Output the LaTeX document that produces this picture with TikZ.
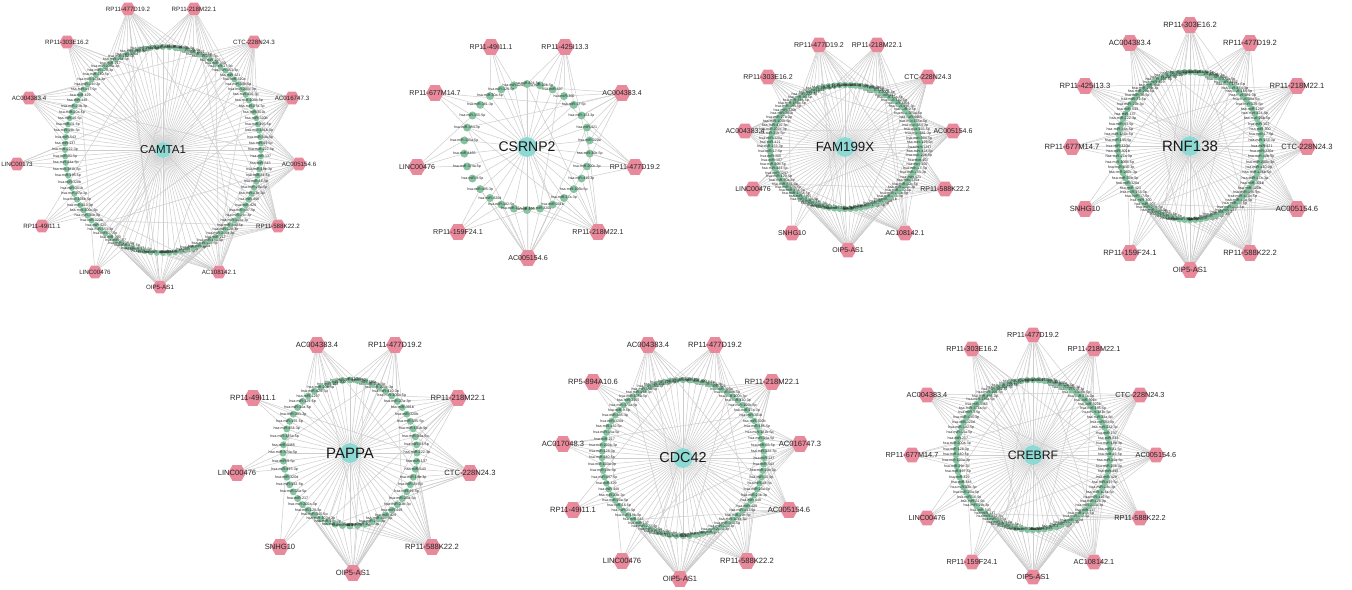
\documentclass[tikz,border=0pt]{standalone}
\usepackage{fontspec}
\setmainfont{Liberation Sans}
\usetikzlibrary{shapes.geometric}
\pgfdeclarelayer{paper}
\pgfdeclarelayer{bg}
\pgfsetlayers{paper,bg,main}
\definecolor{edgegray}{HTML}{CDCDCD}
\definecolor{mirgreen}{HTML}{86C3A1}
\definecolor{hubteal}{HTML}{8ED9D3}
\definecolor{lncpink}{HTML}{E8899C}
\def\msize{4.5pt}\def\mfs{3.2}\def\hexsz{17pt}\def\hfs{7}\def\nameoff{0}\def\hubsz{20pt}
\tikzset{
  edge/.style={draw=edgegray,line width=0.5pt},
  mir/.style={circle,fill=mirgreen,inner sep=0pt,minimum size=\msize},
  mirlab/.style={inner sep=0pt,text=black!85,font=\fontsize{\mfs}{\mfs}\selectfont},
  hub/.style={circle,fill=hubteal,inner sep=0pt,minimum size=\hubsz},
  lnc/.style={regular polygon,regular polygon sides=6,fill=lncpink,inner sep=0pt,minimum size=\hexsz},
  lnclab/.style={inner sep=0pt,text=black!85,font=\fontsize{\hfs}{\hfs}\selectfont},
  hublab/.style={inner sep=0pt,text=black!90},
}
\newcommand\mirname[1]{\ifcase#1 hsa-miR-155-5p\or hsa-miR-107\or hsa-miR-200c-3p\or hsa-miR-181b-5p\or hsa-miR-31-5p\or hsa-miR-29c-3p\or hsa-miR-182-5p\or hsa-miR-454-3p\or hsa-miR-20b-5p\or hsa-miR-30b-5p\or hsa-miR-195-5p\or hsa-miR-19b-3p\or hsa-miR-497-5p\or hsa-miR-15a-5p\or hsa-miR-135a-5p\or hsa-miR-424-5p\or hsa-miR-320a\or hsa-miR-320b\or hsa-miR-543\or hsa-miR-429\or hsa-miR-217\or hsa-miR-4465\or hsa-miR-1297\or hsa-miR-421\or hsa-miR-301b\or hsa-miR-137\or hsa-miR-448\or hsa-miR-200a-3p\or hsa-miR-374a-5p\or hsa-miR-129-5p\or hsa-miR-153-3p\or hsa-miR-27a-3p\or hsa-miR-222-3p\or hsa-miR-23b-3p\or hsa-miR-128-3p\or hsa-miR-9-5p\or hsa-miR-30a-5p\or hsa-miR-17-5p\or hsa-miR-106b-5p\or hsa-miR-93-5p\or hsa-miR-20a-5p\or hsa-miR-340-5p\or hsa-miR-495-3p\or hsa-miR-381-3p\or hsa-miR-300\or hsa-miR-410-3p\or hsa-miR-34a-5p\or hsa-miR-16-5p\or hsa-miR-103a-3p\or hsa-miR-320d\fi}
\newcommand\netpanel[9]{%
  \node[hub] (#1-c) at (#2,#3) {};
  \foreach \i in {1,...,#6}{%
    \pgfmathsetmacro\ang{90-(\i-1)/#6*360}%
    \pgfmathsetmacro\mx{#2+#4*cos(\ang)}%
    \pgfmathsetmacro\my{#3+#5*sin(\ang)}%
    \pgfmathtruncatemacro\nm{mod(\i*7+\nameoff,50)}%
    \node[mir] (#1-m\i) at (\mx,\my) {};
    \node[mirlab] at (\mx,\my) {\mirname{\nm}};
  }%
  \node[hublab,font=\fontsize{#8}{#8}\selectfont] at (#2,#3) {#7};
  \foreach \lx/\ly/\lab/\w/\far [count=\j] in {#9}{%
    \node[lnc] (#1-l\j) at (\lx,\ly) {};
    \node[lnclab] at (\lx,\ly) {\lab};
  }%
  \begin{pgfonlayer}{bg}%
  \foreach \i in {1,...,#6}{\draw[edge] (#1-c) -- (#1-m\i);}%
  \foreach \lx/\ly/\lab/\w/\far [count=\j] in {#9}{%
    \pgfmathsetmacro\la{atan2((\ly-#3)/#5,(\lx-#2)/#4)}%
    \pgfmathtruncatemacro\iz{mod(round(10*#6+(90-\la)/360*#6),#6)}%
    \pgfmathtruncatemacro\wa{-\w}%
    \foreach \kk in {\wa,...,\w}{%
      \pgfmathtruncatemacro\idx{mod(\iz+\kk+#6,#6)+1}%
      \draw[edge] (#1-l\j) -- (#1-m\idx);
    }%
    \foreach \ff in {1,...,\far}{%
      \pgfmathtruncatemacro\idx{mod(\iz+round(#6*(0.22+0.19*\ff))+3*\j,#6)+1}%
      \draw[edge] (#1-l\j) -- (#1-m\idx);
    }%
  }%
  \end{pgfonlayer}%
}
\begin{document}
\begin{tikzpicture}[x=1pt,y=-1pt]
\begin{pgfonlayer}{paper}\fill[white] (0,0) rectangle (1352,589);\end{pgfonlayer}
\useasboundingbox (0,0) rectangle (1352,589);

% CAMTA1
\def\msize{6pt}\def\mfs{3.6}\def\hexsz{15pt}\def\hfs{6.2}\def\nameoff{0}\def\hubsz{16pt}
\netpanel{a}{163}{150}{98}{103}{100}{CAMTA1}{11.5}{128/9/RP11-477D19.2/6/4, 194/9/RP11-218M22.1/6/4, 67/42/RP11-303E16.2/4/2, 254/42/CTC-228N24.3/6/3, 29/98/AC004383.4/5/2, 292/98/AC016747.3/6/3, 17/164/LINC00173/2/1, 299/164/AC005154.6/7/3, 42/226/RP11-49I11.1/2/1, 278/226/RP11-588K22.2/8/4, 95/272/LINC00476/2/1, 219/272/AC108142.1/8/4, 160/287/OIP5-AS1/12/5}

% CSRNP2
\def\msize{8pt}\def\mfs{3.6}\def\hexsz{18pt}\def\hfs{7.1}\def\nameoff{3}\def\hubsz{20pt}
\netpanel{b}{527}{147}{63}{63}{30}{CSRNP2}{14}{491/47/RP11-49I11.1/1/1, 565/47/RP11-425I13.3/2/2, 435/93/RP11-677M14.7/1/1, 622/93/AC004383.4/2/4, 417/167/LINC00476/1/1, 635/167/RP11-477D19.2/2/2, 458/232/RP11-159F24.1/1/1, 598/232/RP11-218M22.1/3/3, 528/258/AC005154.6/4/5}

% FAM199X
\def\msize{6.5pt}\def\mfs{3.6}\def\hexsz{17pt}\def\hfs{7}\def\nameoff{11}\def\hubsz{20pt}
\netpanel{c}{845}{147}{75}{62}{88}{FAM199X}{13.3}{819/45/RP11-477D19.2/6/3, 877/45/RP11-218M22.1/6/3, 768/77/RP11-303E16.2/3/2, 928/77/CTC-228N24.3/6/3, 745/131/AC004383.4/5/2, 953/131/AC005154.6/7/3, 753/189/LINC00476/2/1, 945/189/RP11-588K22.2/6/3, 792/233/SNHG10/1/1, 905/233/AC108142.1/7/4, 848/250/OIP5-AS1/11/5}

% RNF138
\def\msize{6.5pt}\def\mfs{3.7}\def\hexsz{18pt}\def\hfs{7.6}\def\nameoff{19}\def\hubsz{20pt}
\netpanel{d}{1190}{146}{72}{74}{84}{RNF138}{15}{1190/25/RP11-303E16.2/4/3, 1130/43/AC004383.4/5/2, 1250/43/RP11-477D19.2/5/3, 1085/86/RP11-425I13.3/3/2, 1297/86/RP11-218M22.1/5/3, 1072/147/RP11-677M14.7/2/1, 1307/147/CTC-228N24.3/6/3, 1085/209/SNHG10/1/1, 1297/209/AC005154.6/7/3, 1130/253/RP11-159F24.1/2/1, 1250/253/RP11-588K22.2/7/3, 1190/270/OIP5-AS1/11/5}

% PAPPA
\def\msize{7pt}\def\mfs{3.7}\def\hexsz{18pt}\def\hfs{7.6}\def\nameoff{27}\def\hubsz{20pt}
\netpanel{e}{350}{453}{67}{73}{56}{PAPPA}{15}{317/345/AC004383.4/4/2, 395/345/RP11-477D19.2/4/2, 253/398/RP11-49I11.1/1/1, 458/398/RP11-218M22.1/4/2, 237/473/LINC00476/1/1, 470/473/CTC-228N24.3/5/2, 280/547/SNHG10/1/1, 432/547/RP11-588K22.2/6/3, 353/573/OIP5-AS1/9/4}

% CDC42
\def\msize{6.5pt}\def\mfs{3.6}\def\hexsz{18pt}\def\hfs{7.6}\def\nameoff{35}\def\hubsz{20pt}
\netpanel{f}{683}{458}{81}{78}{76}{CDC42}{14.4}{648/345/AC004383.4/5/2, 715/345/RP11-477D19.2/5/3, 593/382/RP5-894A10.6/2/1, 772/382/RP11-218M22.1/5/3, 563/444/AC017048.3/2/1, 800/444/AC016747.3/5/3, 573/510/RP11-49I11.1/1/1, 789/510/AC005154.6/6/3, 622/561/LINC00476/1/1, 747/561/RP11-588K22.2/6/3, 680/579/OIP5-AS1/10/5}

% CREBRF
\def\msize{6.5pt}\def\mfs{3.6}\def\hexsz{17pt}\def\hfs{7.3}\def\nameoff{43}\def\hubsz{20pt}
\netpanel{g}{1033}{455}{77}{75}{84}{CREBRF}{12.2}{1033/335/RP11-477D19.2/4/3, 972/349/RP11-303E16.2/4/2, 1094/349/RP11-218M22.1/5/3, 927/395/AC004383.4/4/2, 1140/395/CTC-228N24.3/6/3, 912/455/RP11-677M14.7/2/1, 1156/455/AC005154.6/6/3, 927/518/LINC00476/1/1, 1140/518/RP11-588K22.2/6/3, 972/562/RP11-159F24.1/2/1, 1094/562/AC108142.1/7/3, 1033/577/OIP5-AS1/11/5}
\end{tikzpicture}
\end{document}
